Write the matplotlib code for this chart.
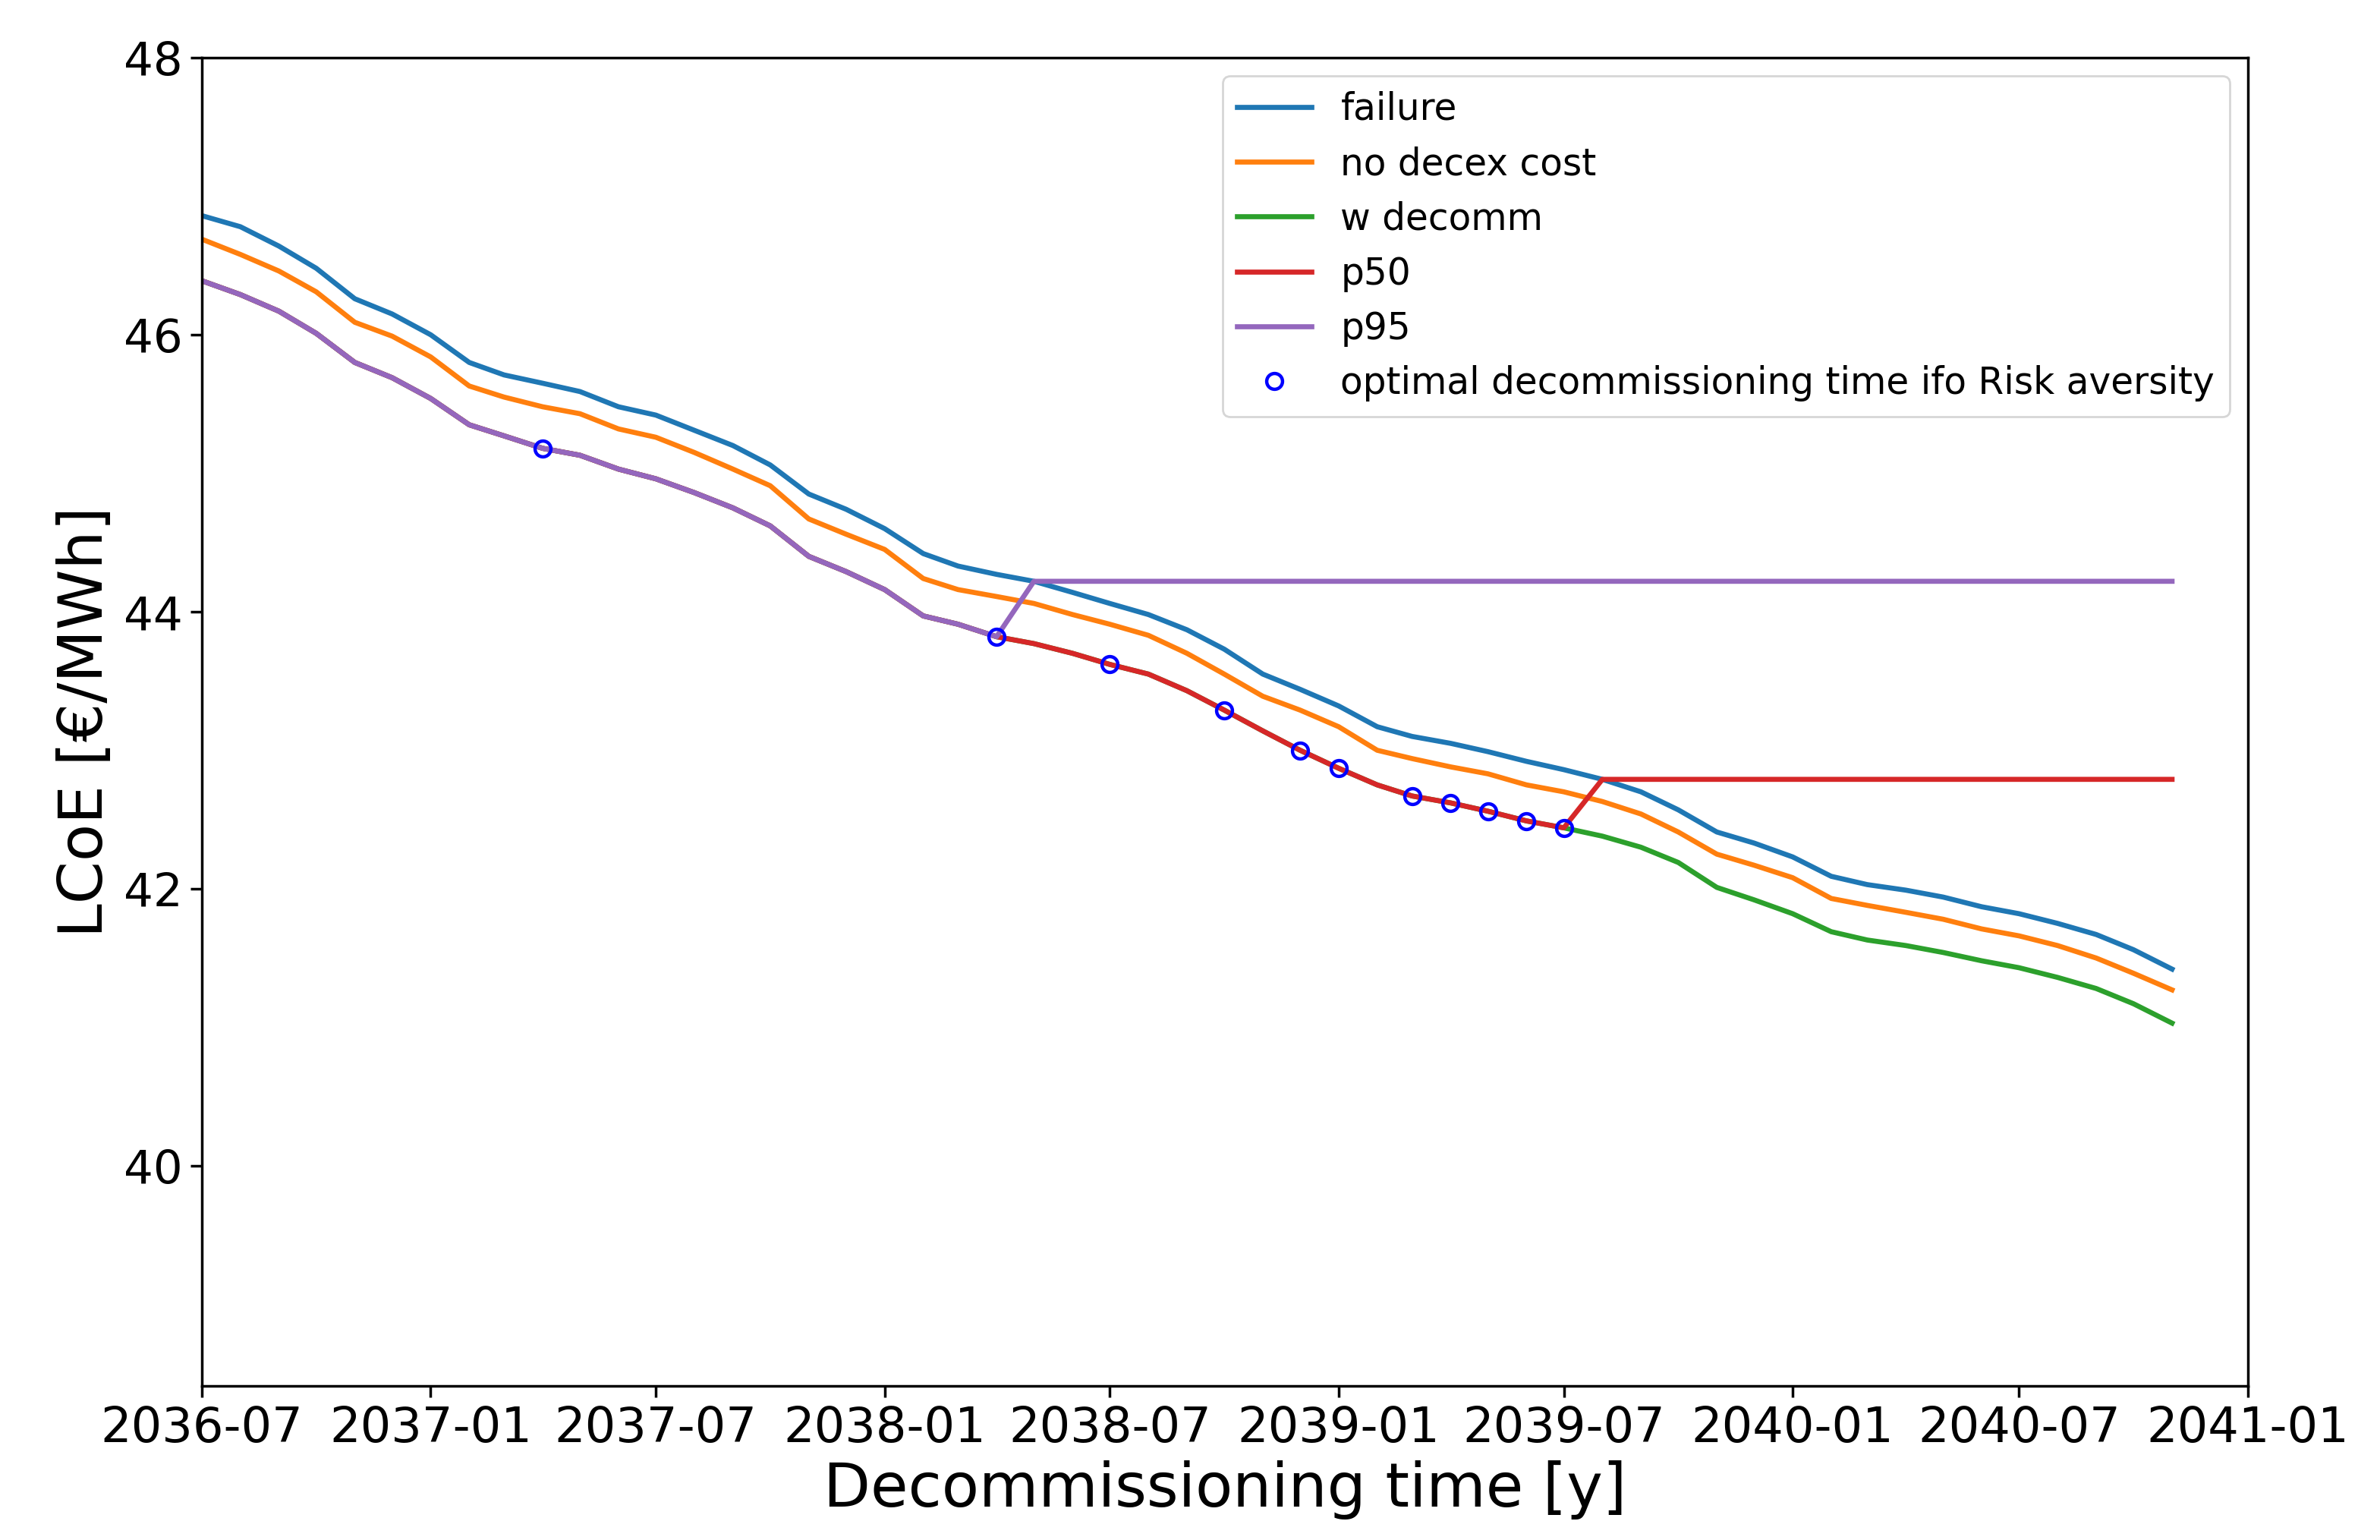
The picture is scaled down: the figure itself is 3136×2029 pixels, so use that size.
import matplotlib
matplotlib.use('Agg')
import matplotlib.pyplot as plt
import matplotlib.dates as mdates
import pandas as pd

# decommissioning dates (monthly, 2036-07 .. 2040-11)
dates = pd.date_range('2036-07-01', periods=53, freq='MS')

# LCoE [EUR/MWh] per decommissioning month
failure = [46.86, 46.78, 46.64, 46.48, 46.26, 46.15, 46.00, 45.80, 45.71, 45.65,
           45.59, 45.48, 45.42, 45.31, 45.20, 45.06, 44.85, 44.74, 44.60, 44.42,
           44.33, 44.27, 44.22, 44.14, 44.06, 43.98, 43.87, 43.73, 43.55, 43.44,
           43.32, 43.17, 43.10, 43.05, 42.99, 42.92, 42.86, 42.79, 42.70, 42.57,
           42.41, 42.33, 42.23, 42.09, 42.03, 41.99, 41.94, 41.87, 41.82, 41.75,
           41.67, 41.56, 41.42]
no_decex = [46.69, 46.58, 46.46, 46.31, 46.09, 45.99, 45.84, 45.63, 45.55, 45.48,
            45.43, 45.32, 45.26, 45.15, 45.03, 44.91, 44.67, 44.56, 44.45, 44.24,
            44.16, 44.11, 44.06, 43.98, 43.91, 43.83, 43.70, 43.55, 43.39, 43.29,
            43.17, 43.00, 42.94, 42.88, 42.83, 42.75, 42.70, 42.63, 42.54, 42.41,
            42.25, 42.17, 42.08, 41.93, 41.88, 41.83, 41.78, 41.71, 41.66, 41.59,
            41.50, 41.39, 41.27]
w_decomm = [46.39, 46.29, 46.17, 46.01, 45.80, 45.69, 45.54, 45.35, 45.27, 45.18,
            45.13, 45.03, 44.96, 44.86, 44.75, 44.62, 44.40, 44.29, 44.16, 43.97,
            43.91, 43.82, 43.77, 43.70, 43.62, 43.55, 43.43, 43.29, 43.14, 43.00,
            42.87, 42.75, 42.67, 42.62, 42.56, 42.49, 42.44, 42.38, 42.30, 42.19,
            42.01, 41.92, 41.82, 41.69, 41.63, 41.59, 41.54, 41.48, 41.43, 41.36,
            41.28, 41.17, 41.03]

# risk-averse curves: follow w_decomm, then stay flat at the failure level
p50 = w_decomm[:37] + [42.79] * 16
p95 = w_decomm[:22] + [44.22] * 31

# optimal decommissioning times
opt_dates = pd.to_datetime(['2037-04-01', '2038-04-01', '2038-07-01', '2038-10-01',
                            '2038-12-01', '2039-01-01', '2039-03-01', '2039-04-01',
                            '2039-05-01', '2039-06-01', '2039-07-01'])
opt_lcoe = [45.18, 43.82, 43.62, 43.29, 43.00, 42.87, 42.67, 42.62, 42.56, 42.49, 42.44]

fig = plt.figure(figsize=(15.68, 10.145), dpi=200)
ax = fig.add_axes([0.0848, 0.1000, 0.8597, 0.8625])

lw = 2.4
ax.plot(dates, failure, color='tab:blue', lw=lw, label='failure')
ax.plot(dates, no_decex, color='tab:orange', lw=lw, label='no decex cost')
ax.plot(dates, w_decomm, color='tab:green', lw=lw, label='w decomm')
ax.plot(dates, p50, color='tab:red', lw=lw, label='p50')
ax.plot(dates, p95, color='tab:purple', lw=lw, label='p95')
ax.plot(opt_dates, opt_lcoe, 'o', color='b', mfc='none', ms=7.5, mew=1.6,
        label='optimal decommissioning time ifo Risk aversity')

ax.set_xlim(pd.Timestamp('2036-07-01'), pd.Timestamp('2041-01-01'))
ax.set_ylim(38.41, 48)
ax.set_yticks([40, 42, 44, 46, 48])
ax.xaxis.set_major_locator(mdates.MonthLocator(bymonth=(1, 7)))
ax.xaxis.set_major_formatter(mdates.DateFormatter('%Y-%m'))

ax.tick_params(axis='x', labelsize=23, length=5.5, width=1.25)
ax.tick_params(axis='y', labelsize=22, length=5.5, width=1.25)
for s in ax.spines.values():
    s.set_linewidth(1.25)

ax.set_xlabel('Decommissioning time [y]', fontsize=29)
ax.set_ylabel('LCoE [€/MWh]', fontsize=29)

ax.legend(loc='upper right', fontsize=17.5)

fig.savefig('out.png', dpi=200)
